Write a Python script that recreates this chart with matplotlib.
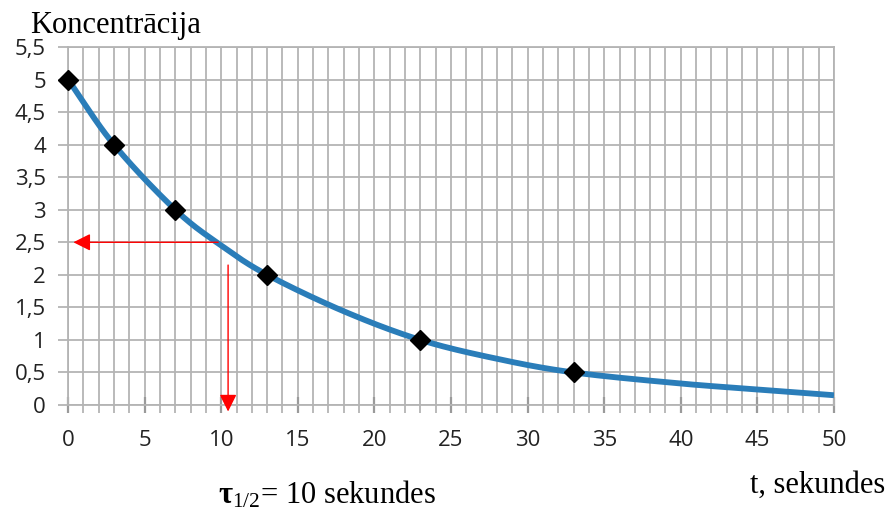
import numpy as np
import matplotlib
matplotlib.use("Agg")
import matplotlib.pyplot as plt
from matplotlib.ticker import MultipleLocator, FixedLocator

# Data points (markers)
t_points = [0, 3, 7, 13, 23, 33]
c_points = [5, 4, 3, 2, 1, 0.5]

# Curve samples
t_curve = [0, 3, 7, 10, 13, 18, 23, 28, 33, 40, 45, 50]
c_curve = [5, 4, 3, 2.45, 2, 1.44, 1, 0.71, 0.5, 0.33, 0.24, 0.15]

x_ticks = [0, 5, 10, 15, 20, 25, 30, 35, 40, 45, 50]
y_ticks = [0, 0.5, 1, 1.5, 2, 2.5, 3, 3.5, 4, 4.5, 5, 5.5]
y_tick_labels = ["0", "0,5", "1", "1,5", "2", "2,5", "3", "3,5", "4", "4,5", "5", "5,5"]

half_life = 10.45
half_conc = 2.5

plt.rcParams["mathtext.fontset"] = "custom"
plt.rcParams["mathtext.rm"] = "Liberation Serif"
plt.rcParams["mathtext.bf"] = "Liberation Serif:bold"
plt.rcParams["mathtext.it"] = "Liberation Serif:italic"


def catmull_rom(xs, ys, n=30):
    xs = np.asarray(xs, float); ys = np.asarray(ys, float)
    px = np.concatenate([[2 * xs[0] - xs[1]], xs, [2 * xs[-1] - xs[-2]]])
    py = np.concatenate([[2 * ys[0] - ys[1]], ys, [2 * ys[-1] - ys[-2]]])
    ox, oy = [], []
    for i in range(1, len(px) - 2):
        s = np.linspace(0, 1, n, endpoint=False)
        for arr, out in ((px, ox), (py, oy)):
            p0, p1, p2, p3 = arr[i - 1], arr[i], arr[i + 1], arr[i + 2]
            out.extend(0.5 * ((2 * p1) + (-p0 + p2) * s + (2 * p0 - 5 * p1 + 4 * p2 - p3) * s ** 2
                              + (-p0 + 3 * p1 - 3 * p2 + p3) * s ** 3))
    ox.append(xs[-1]); oy.append(ys[-1])
    return np.array(ox), np.array(oy)


fig = plt.figure(figsize=(8.89, 5.13), dpi=100)
ax = fig.add_axes([68 / 889, (513 - 405) / 513, (834 - 68) / 889, (405 - 47) / 513])

grid_col = "#b4b4b4"
ax.set_xlim(0, 50)
ax.set_ylim(0, 5.5)
ax.xaxis.set_major_locator(FixedLocator(x_ticks))
ax.xaxis.set_minor_locator(MultipleLocator(1))
ax.yaxis.set_major_locator(FixedLocator(y_ticks))
ax.set_yticklabels(y_tick_labels)
ax.grid(True, which="both", axis="x", color=grid_col, linewidth=1.3)
ax.grid(True, which="major", axis="y", color=grid_col, linewidth=1.3)
for s in ax.spines.values():
    s.set_color(grid_col)
    s.set_linewidth(1.3)

ax.tick_params(axis="x", which="major", direction="inout", length=12, width=1.6,
               color="#9a9a9a", pad=12)
ax.tick_params(axis="x", which="minor", direction="out", length=5.5, width=1.3, color=grid_col)
ax.tick_params(axis="y", which="major", direction="out", length=7, width=1.3, color=grid_col, pad=9)
for lab in ax.get_xticklabels() + ax.get_yticklabels():
    lab.set_fontfamily(["Open Sans", "DejaVu Sans"])
    lab.set_fontsize(16)
    lab.set_color("#222222")

cx, cy = catmull_rom(t_curve, c_curve)
ax.plot(cx, cy, color="#2a7db9", linewidth=4.2, zorder=3, solid_capstyle="butt")
ax.plot(t_points, c_points, linestyle="none", marker="D", markersize=10,
        color="black", zorder=4, clip_on=False)

# Red arrows
ax.annotate("", xy=(0.35, half_conc), xytext=(9.8, half_conc),
            arrowprops=dict(arrowstyle="-|>", color="red", lw=1.0,
                            mutation_scale=26, shrinkA=0, shrinkB=0), zorder=5)
ax.annotate("", xy=(half_life, -0.1), xytext=(half_life, 2.15),
            arrowprops=dict(arrowstyle="-|>", color="red", lw=1.0,
                            mutation_scale=26, shrinkA=0, shrinkB=0),
            annotation_clip=False, zorder=5)

serif = ["Liberation Serif", "DejaVu Serif"]
fig.text(30 / 889, 1 - 33 / 513, "Koncentrācija", family=serif, size=22, va="baseline", ha="left")
fig.text(885 / 889, 1 - 493 / 513, "t, sekundes", family=serif, size=22, va="baseline", ha="right")
fig.text(218 / 889, 1 - 503 / 513, r"$\mathbf{\tau}_{\mathrm{1/2}}$= 10 sekundes",
         family=serif, size=22, va="baseline", ha="left")

fig.savefig("out.png", dpi=100)
